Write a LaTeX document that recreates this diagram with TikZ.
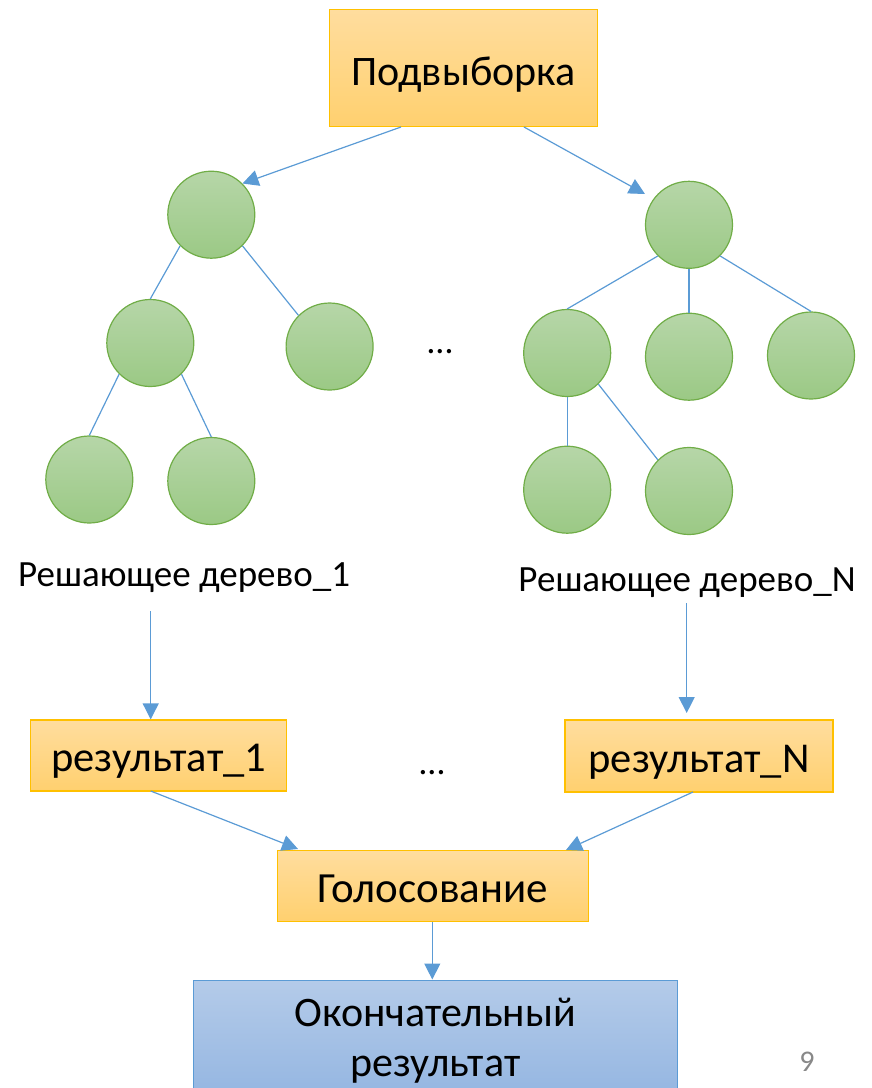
\documentclass[tikz,border=0pt]{standalone}
\usepackage{fontspec}
\setmainfont{Carlito}
\usetikzlibrary{arrows.meta}
\definecolor{lnblue}{HTML}{5B9BD5}
\definecolor{orgtop}{HTML}{FFDD9E}
\definecolor{orgbot}{HTML}{FFD06F}
\definecolor{orgline}{HTML}{FFC000}
\definecolor{grtop}{HTML}{B6D6A8}
\definecolor{grbot}{HTML}{9BC985}
\definecolor{grline}{HTML}{70AD47}
\definecolor{bltop}{HTML}{B4CBE9}
\definecolor{blbot}{HTML}{93B5E1}
\definecolor{pgray}{HTML}{888888}
\begin{document}
\begin{tikzpicture}[x=1pt,y=-1pt,
  treenode/.style={circle,draw=grline,line width=1.2pt,top color=grtop,bottom color=grbot,minimum size=87pt,inner sep=0pt},
  orangebox/.style={rectangle,draw=orgline,line width=1.2pt,top color=orgtop,bottom color=orgbot,inner sep=0pt},
  edge/.style={draw=lnblue,line width=1.2pt},
  arr/.style={draw=lnblue,line width=1.2pt,-{Triangle[length=16pt,width=16pt]}},
  lbl/.style={inner sep=0pt,font=\fontsize{37}{44}\selectfont}
]
\path[use as bounding box] (0,0) rectangle (872,1088);

% top box
\node[orangebox,minimum width=268pt,minimum height=117pt,font=\fontsize{42}{50}\selectfont,text height=43pt,text depth=9pt] (top) at (463.5,68) {Подвыборка};

% left tree
\node[treenode] (A) at (211.3,214.7) {};
\node[treenode] (B) at (150.3,343) {};
\node[treenode] (C) at (329.6,346.5) {};
\node[treenode] (D) at (89.3,479.5) {};
\node[treenode] (E) at (211.3,481) {};

% right tree
\node[treenode] (F) at (689,224.8) {};
\node[treenode] (G) at (567.2,353) {};
\node[treenode] (H) at (689,356.7) {};
\node[treenode] (I) at (811,355.5) {};
\node[treenode] (J) at (567.2,489.7) {};
\node[treenode] (K) at (689,491) {};

\path[edge] (A.225) -- (B.north);
\path[edge] (A.315) -- (C.135);
\path[edge] (B.225) -- (D.north);
\path[edge] (B.315) -- (E.north);
\path[edge] (F.225) -- (G.north);
\path[edge] (F.south) -- (H.north);
\path[edge] (F.315) -- (I.north);
\path[edge] (G.south) -- (J.north);
\path[edge] (G.315) -- (K.135);

% arrows from top box
\coordinate (tl) at (401,127);
\coordinate (tr) at (524,127);
\coordinate (fl) at (645,194);
\path[arr] (tl) -- (A.45);
\path[arr] (tr) -- (fl);

% dots
\node[inner sep=0pt,font=\fontsize{36}{43}\selectfont] (dots1) at (440,352) {…};
\node[inner sep=0pt,font=\fontsize{36}{43}\selectfont] (dots2) at (432,773) {…};

% tree labels
\node[lbl] (L1) at (184,578) {Решающее дерево\_1};
\node[lbl] (LN) at (687,583) {Решающее дерево\_N};

% result boxes
\node[orangebox,minimum width=256pt,minimum height=71pt,font=\fontsize{42.5}{50}\selectfont,text height=41pt,text depth=8.5pt] (R1) at (158.7,755.5) {результат\_1};
\node[orangebox,minimum width=268pt,minimum height=72pt,font=\fontsize{42.5}{50}\selectfont,text height=41pt,text depth=8.5pt] (RN) at (699,756) {результат\_N};

\coordinate (l1s) at (150.7,611);
\coordinate (lns) at (686.7,603);
\coordinate (lne) at (686.7,713);
\path[arr] (l1s) -- (l1s |- R1.north);
\path[arr] (lns) -- (lne);

% vote box
\node[orangebox,minimum width=311pt,minimum height=71pt,font=\fontsize{43}{50}\selectfont,text height=31.7pt,text depth=0pt] (V) at (433,886.2) {Голосование};

\coordinate (r1b) at (150.7,791);
\coordinate (rnb) at (693,792);
\coordinate (v1) at (298,849);
\coordinate (v2) at (566,850);
\path[arr] (r1b) -- (v1);
\path[arr] (rnb) -- (v2);

% final box
\node[rectangle,draw=lnblue,line width=1pt,top color=bltop,bottom color=blbot,minimum width=484pt,minimum height=122pt,inner sep=0pt,align=center,font=\fontsize{42}{50}\selectfont] (Fin) at (435.3,1041) {Окончательный\\результат};
\coordinate (vb) at (432.3,922);
\path[arr] (vb) -- (vb |- Fin.north);

% page number
\node[inner sep=0pt,text=pgray,font=\fontsize{30}{36}\selectfont] (pg) at (807,1062) {9};
\end{tikzpicture}
\end{document}
